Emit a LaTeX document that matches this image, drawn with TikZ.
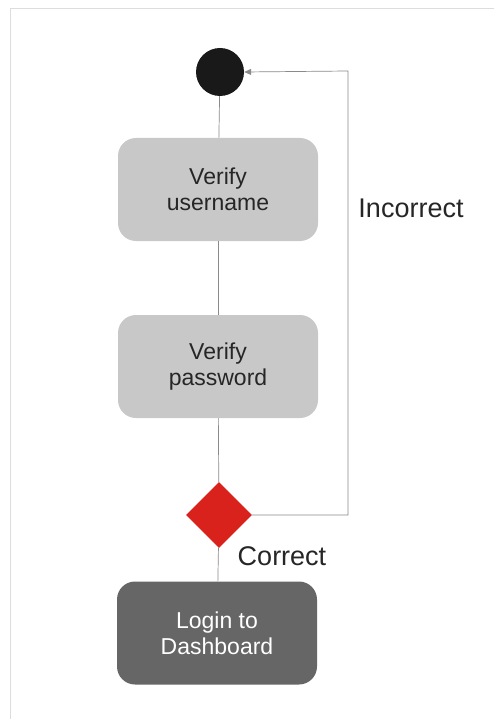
\documentclass[tikz,border=0pt]{standalone}
\usepackage{fontspec}
\setmainfont{Liberation Sans}
\usetikzlibrary{shapes.geometric,arrows.meta}
\definecolor{boxgray}{HTML}{C8C8C8}
\definecolor{darkbox}{HTML}{666666}
\definecolor{decred}{HTML}{D9221C}
\definecolor{linegray}{HTML}{8A8A8A}
\definecolor{framegray}{HTML}{DDDDDD}
\begin{document}
\begin{tikzpicture}[x=1pt,y=-1pt,
  action/.style={rectangle, rounded corners=18pt, minimum width=200pt, minimum height=103pt,
    inner sep=0pt, align=center, font=\fontsize{23}{26}\selectfont, text=black!85},
  lightact/.style={action, fill=boxgray},
  darkact/.style={action, fill=darkbox, text=white},
  startdot/.style={circle, fill=black!90, minimum size=48pt, inner sep=0pt},
  decision/.style={diamond, fill=decred, minimum width=66pt, minimum height=66pt, inner sep=0pt},
  flow/.style={draw=linegray, line width=0.7pt},
  lbl/.style={font=\fontsize{27}{30}\selectfont, text=black!85, inner sep=0pt}]
  \useasboundingbox (0,0) rectangle (494,719);
  \fill[white] (0,0) rectangle (494,719);
  % page frame
  \draw[framegray, line width=1pt] (494,8.5) -- (10.5,8.5) -- (10.5,719);

  \node[startdot] (start) at (220,72) {};
  \node[lightact] (user) at (218,189.5) {Verify\\username};
  \node[lightact] (pass) at (218,366.5) {Verify\\password};
  \node[decision] (dec) at (219,515) {};
  \node[darkact] (login) at (217,633) {Login to\\Dashboard};
  \coordinate (loopR) at (348,515);
  \coordinate (loopT) at (348,71);

  \draw[flow] (start) -- (user);
  \draw[flow] (user) -- (pass);
  \draw[flow] (pass) -- (dec);
  \draw[flow] (dec) -- (login);
  \draw[flow, -{Triangle[length=7pt,width=6pt]}] (dec.east) -- (loopR) -- (loopT) -- (start.east);

  \node[lbl, anchor=center] (inc) at (411,208) {Incorrect};
  \node[lbl, anchor=center] (cor) at (282,556) {Correct};
\end{tikzpicture}
\end{document}
